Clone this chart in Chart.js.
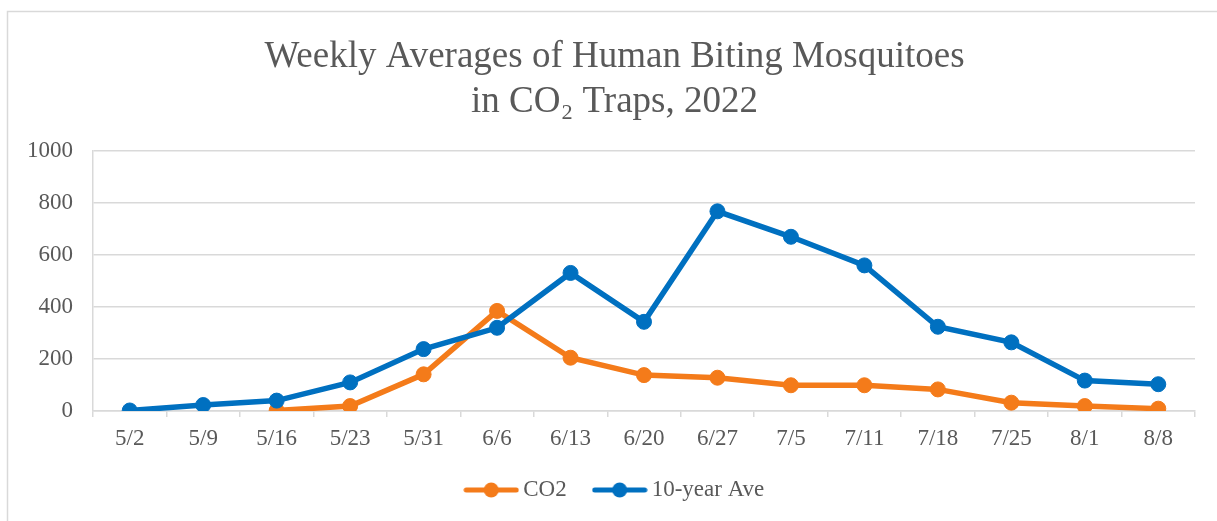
<!DOCTYPE html>
<html>
<head>
<meta charset="utf-8">
<script src="https://cdn.jsdelivr.net/npm/chart.js@4/dist/chart.umd.min.js"></script>
<style>
  html, body { margin: 0; padding: 0; background: #fff; }
  #wrap { position: relative; width: 1217px; height: 521px; }
</style>
</head>
<body>
<div id="wrap"><canvas id="mosq" width="1217" height="521"></canvas></div>
<script>
// data
const weeks = ['5/2', '5/9', '5/16', '5/23', '5/31', '6/6', '6/13', '6/20', '6/27', '7/5', '7/11', '7/18', '7/25', '8/1', '8/8'];
const co2 = [null, null, 2, 19, 141, 385, 205, 138, 128, 99, 99, 83, 32, 19, 9];
const tenYearAve = [2, 23, 40, 110, 238, 320, 531, 343, 768, 670, 560, 324, 264, 117, 103];
const yTicks = [0, 200, 400, 600, 800, 1000];

const ORANGE = '#f47b1a';
const BLUE = '#0070c0';
const TEXT = '#595959';
const LINE = '#d9d9d9';
const SERIF = '"Liberation Serif", "Times New Roman", serif';

// legend marker: short line with a dot, like the office chart legend
function legendMark(color) {
    const c = document.createElement('canvas');
    c.width = 56;
    c.height = 16;
    const g = c.getContext('2d');
    g.strokeStyle = color;
    g.lineWidth = 5;
    g.lineCap = 'round';
    g.beginPath();
    g.moveTo(3, 8);
    g.lineTo(53, 8);
    g.stroke();
    g.fillStyle = color;
    g.beginPath();
    g.arc(28, 8, 7.5, 0, Math.PI * 2);
    g.fill();
    return c;
}
const marks = [legendMark(ORANGE), legendMark(BLUE)];

// thin grey frame round the chart
const framePlugin = {
    id: 'frame',
    beforeDraw(chart) {
        const ctx = chart.ctx;
        ctx.save();
        ctx.strokeStyle = LINE;
        ctx.lineWidth = 1.5;
        ctx.strokeRect(7.5, 11.5, chart.width + 20, chart.height + 20);
        ctx.restore();
    }
};

// title and legend sit a little right of the canvas centre in the original
const nudgePlugin = {
    id: 'nudge',
    afterLayout(chart) {
        if (chart.titleBlock) {
            chart.titleBlock.left += 17;
            chart.titleBlock.right += 17;
        }
        if (chart.legend) {
            chart.legend.left += 20;
            chart.legend.right += 20;
        }
    }
};

const ctx = document.getElementById('mosq').getContext('2d');
new Chart(ctx, {
    type: 'line',
    data: {
        labels: weeks,
        datasets: [{
            label: 'CO2',
            data: co2,
            borderColor: ORANGE,
            backgroundColor: ORANGE,
            borderWidth: 5.5,
            pointRadius: 7.5,
            pointBorderWidth: 1,
            pointBackgroundColor: ORANGE,
            pointBorderColor: ORANGE,
            tension: 0,
            order: 2
        }, {
            label: '10-year Ave',
            data: tenYearAve,
            borderColor: BLUE,
            backgroundColor: BLUE,
            borderWidth: 5.5,
            pointRadius: 7.5,
            pointBorderWidth: 1,
            pointBackgroundColor: BLUE,
            pointBorderColor: BLUE,
            tension: 0,
            order: 1
        }]
    },
    options: {
        responsive: false,
        animation: false,
        devicePixelRatio: 1,
        layout: { padding: { top: 0, left: 0, right: 22, bottom: 9.5 } },
        plugins: {
            title: {
                display: true,
                text: ['Weekly Averages of Human Biting Mosquitoes', 'in CO\u2082 Traps, 2022'],
                color: TEXT,
                font: { family: SERIF, size: 37, weight: 'normal', lineHeight: 1.216 },
                padding: { top: 35, bottom: 26 }
            },
            legend: {
                position: 'bottom',
                labels: {
                    usePointStyle: true,
                    pointStyleWidth: 41,
                    color: TEXT,
                    font: { family: SERIF, size: 23 },
                    padding: 32.5,
                    generateLabels: function(chart) {
                        return chart.data.datasets.map((ds, i) => ({
                            text: ds.label,
                            fillStyle: ds.borderColor,
                            strokeStyle: ds.borderColor,
                            lineWidth: 0,
                            pointStyle: marks[i],
                            fontColor: TEXT,
                            hidden: false,
                            datasetIndex: i
                        }));
                    }
                }
            },
            tooltip: { enabled: false }
        },
        scales: {
            x: {
                offset: true,
                afterFit: function(scale) {
                    scale.height = 35;
                },
                grid: {
                    offset: true,
                    drawOnChartArea: false,
                    drawTicks: true,
                    tickLength: 6,
                    color: LINE,
                    lineWidth: 1.5
                },
                border: { display: true, color: LINE, width: 1.5 },
                ticks: {
                    color: TEXT,
                    font: { family: SERIF, size: 23 },
                    padding: 8,
                    maxRotation: 0,
                    autoSkip: false
                }
            },
            y: {
                min: 0,
                max: 1000,
                afterBuildTicks: function(scale) {
                    scale.ticks = yTicks.map(v => ({ value: v }));
                },
                afterFit: function(scale) {
                    scale.width = 93;
                },
                grid: { color: LINE, lineWidth: 1.5, drawTicks: false },
                border: { display: true, color: LINE, width: 1.5 },
                ticks: {
                    color: TEXT,
                    font: { family: SERIF, size: 23 },
                    padding: 20,
                    callback: function(value) {
                        return String(value);
                    }
                }
            }
        }
    },
    plugins: [framePlugin, nudgePlugin]
});
</script>
</body>
</html>
